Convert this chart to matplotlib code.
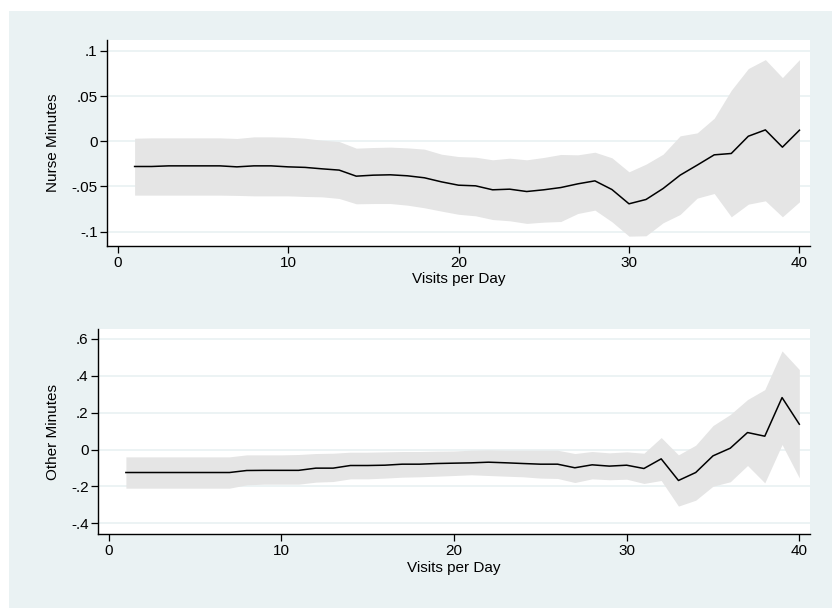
import matplotlib
matplotlib.use("Agg")
import matplotlib.pyplot as plt
from matplotlib.patches import Rectangle
import numpy as np

visits = np.arange(1, 41)

# Nurse minutes: point estimate and 95% band
nurse_est = [-0.028, -0.028, -0.0273, -0.0273, -0.0273, -0.0273, -0.0284, -0.0273, -0.0273, -0.0284,
             -0.029, -0.0306, -0.032, -0.0387, -0.0376, -0.0372, -0.0383, -0.0405, -0.045, -0.0487,
             -0.0494, -0.0538, -0.0531, -0.0557, -0.0538, -0.0513, -0.0472, -0.0439, -0.0535, -0.0693,
             -0.0645, -0.0524, -0.0376, -0.0265, -0.0151, -0.0136, 0.0055, 0.0125, -0.0066, 0.0122]
nurse_hi = [0.0033, 0.0037, 0.0037, 0.0037, 0.0037, 0.0037, 0.003, 0.0048, 0.0048, 0.0044,
            0.0033, 0.0011, -0.0004, -0.0077, -0.007, -0.0066, -0.0074, -0.0088, -0.0144, -0.0170,
            -0.0177, -0.0206, -0.0188, -0.0206, -0.018, -0.0147, -0.0151, -0.0122, -0.0184, -0.0339,
            -0.0254, -0.0144, 0.0059, 0.0092, 0.0254, 0.0564, 0.0804, 0.0903, 0.0704, 0.0903]
nurse_lo = [-0.0597, -0.0597, -0.0597, -0.0597, -0.0597, -0.0597, -0.06, -0.0605, -0.0605, -0.0605,
            -0.0612, -0.0616, -0.0634, -0.0693, -0.069, -0.069, -0.0708, -0.0737, -0.0774, -0.0809,
            -0.0826, -0.0867, -0.0881, -0.091, -0.0896, -0.0889, -0.08, -0.0763, -0.0892, -0.1051,
            -0.1047, -0.0903, -0.0811, -0.063, -0.0579, -0.0837, -0.0697, -0.066, -0.0837, -0.0671]

# Other minutes: point estimate and 95% band
other_est = [-0.1247, -0.1247, -0.1247, -0.1247, -0.1247, -0.1247, -0.1247, -0.1138, -0.113, -0.113,
             -0.113, -0.101, -0.101, -0.0867, -0.0867, -0.085, -0.0795, -0.0795, -0.0759, -0.074,
             -0.0723, -0.0687, -0.072, -0.0759, -0.0795, -0.0795, -0.099, -0.083, -0.09, -0.085,
             -0.103, -0.0506, -0.168, -0.1247, -0.0343, 0.0072, 0.0922, 0.0723, 0.2819, 0.1373]
other_hi = [-0.0398, -0.0398, -0.0398, -0.0398, -0.0398, -0.0398, -0.0398, -0.029, -0.029, -0.029,
            -0.027, -0.0217, -0.02, -0.0145, -0.0145, -0.0126, -0.0108, -0.0108, -0.009, -0.008,
            -0.0036, -0.0018, -0.0036, -0.0036, -0.0036, -0.0036, -0.0217, -0.0108, -0.018, -0.0126,
            -0.02, 0.065, -0.029, 0.0235, 0.13, 0.19, 0.271, 0.325, 0.535, 0.434]
other_lo = [-0.2096, -0.2096, -0.2096, -0.2096, -0.2096, -0.2096, -0.2096, -0.1915, -0.188, -0.188,
            -0.188, -0.177, -0.1735, -0.159, -0.159, -0.155, -0.15, -0.148, -0.1446, -0.141,
            -0.137, -0.141, -0.1446, -0.148, -0.155, -0.157, -0.179, -0.159, -0.164, -0.161,
            -0.184, -0.168, -0.307, -0.275, -0.199, -0.175, -0.0867, -0.181, 0.027, -0.154]

nurse_ticks = [-0.1, -0.05, 0, 0.05, 0.1]
nurse_ticklabels = ["-.1", "-.05", "0", ".05", ".1"]
other_ticks = [-0.4, -0.2, 0, 0.2, 0.4, 0.6]
other_ticklabels = ["-.4", "-.2", "0", ".2", ".4", ".6"]
x_ticks = [0, 10, 20, 30, 40]

BG = "#EAF2F3"
BAND = "#E5E5E5"

plt.rcParams["font.family"] = ["Liberation Sans", "DejaVu Sans"]
plt.rcParams["font.size"] = 11

fig = plt.figure(figsize=(8.32, 6.08), dpi=100, facecolor="white")
fig.patches.append(Rectangle((9 / 832, 0), 1, 1 - 11 / 608, transform=fig.transFigure,
                             facecolor=BG, edgecolor="none", zorder=-1))

ax1 = fig.add_axes([0.129, 0.5954, 0.9736 - 0.129, 0.9342 - 0.5954])
ax2 = fig.add_axes([0.1181, 0.1212, 0.9736 - 0.1181, 0.4589 - 0.1212])

panels = [
    (ax1, nurse_est, nurse_lo, nurse_hi, "Nurse Minutes", nurse_ticks, nurse_ticklabels, (-0.116, 0.112)),
    (ax2, other_est, other_lo, other_hi, "Other Minutes", other_ticks, other_ticklabels, (-0.46, 0.654)),
]

for ax, est, lo, hi, ylabel, yt, ytl, ylim in panels:
    ax.set_facecolor("white")
    ax.fill_between(visits, lo, hi, color=BAND, linewidth=0, zorder=2)
    ax.plot(visits, est, color="black", linewidth=1.1, zorder=3)
    ax.set_xlim(-0.6, 40.62)
    ax.set_ylim(*ylim)
    ax.set_xticks(x_ticks)
    ax.set_yticks(yt)
    ax.set_yticklabels(ytl)
    ax.grid(axis="y", color=BG, linewidth=1.3, zorder=1)
    ax.set_axisbelow(True)
    for side in ["top", "right"]:
        ax.spines[side].set_visible(False)
    for side in ["left", "bottom"]:
        ax.spines[side].set_linewidth(1.0)
    ax.tick_params(direction="out", length=5, width=0.9, labelsize=11, pad=2)
    ax.set_xlabel("Visits per Day", fontsize=11, labelpad=2)
    ax.set_ylabel(ylabel, fontsize=11, labelpad=8)

fig.savefig("out.png", dpi=100, facecolor="white")
